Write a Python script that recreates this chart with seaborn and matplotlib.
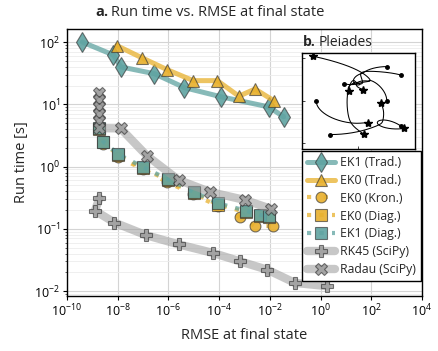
import numpy as np
import pandas as pd
import matplotlib
matplotlib.use("Agg")
import matplotlib.pyplot as plt
import seaborn as sns
from matplotlib.ticker import FixedLocator, NullLocator, NullFormatter, LogLocator
from matplotlib.colors import to_rgba

# ---------------- data ----------------
ek1_trad_err = [4.0e-10, 6.8e-9, 1.3e-8, 2.8e-7, 4.3e-6, 1.2e-4, 8.9e-3, 3.5e-2]
ek1_trad_time = [100, 62, 40, 31, 18.5, 13.2, 9.1, 6.3]

ek0_trad_err = [9.1e-9, 8.9e-8, 8.9e-7, 9.5e-6, 8.5e-5, 6.0e-4, 2.6e-3, 1.45e-2]
ek0_trad_time = [88, 56, 36, 24, 24, 13.5, 17.6, 11.4]

ek0_kron_err = [1.8e-9, 2.7e-9, 1.0e-8, 9.5e-8, 8.5e-7, 9.5e-6, 9.3e-5, 6.6e-4, 2.6e-3, 1.35e-2]
ek0_kron_time = [4.0, 2.3, 1.44, 0.91, 0.57, 0.357, 0.232, 0.153, 0.111, 0.111]

ek0_diag_err = [1.8e-9, 2.7e-9, 1.05e-8, 9.5e-8, 9.5e-7, 1.0e-5, 9.3e-5, 1.1e-3, 4.0e-3, 9.3e-3]
ek0_diag_time = [4.0, 2.45, 1.52, 0.95, 0.60, 0.375, 0.245, 0.185, 0.160, 0.155]

ek1_diag_err = [1.8e-9, 2.7e-9, 1.07e-8, 9.5e-8, 9.8e-7, 1.05e-5, 9.3e-5, 1.15e-3, 4.1e-3, 9.5e-3]
ek1_diag_time = [4.1, 2.5, 1.57, 0.99, 0.62, 0.39, 0.256, 0.195, 0.166, 0.16]

rk45_err = [1.9e-9, 1.26e-9, 7.4e-9, 1.3e-7, 2.6e-6, 5.6e-5, 6.6e-4, 7.9e-3, 9.8e-2, 1.74]
rk45_time = [0.31, 0.195, 0.126, 0.079, 0.056, 0.041, 0.030, 0.022, 0.0135, 0.012]

radau_err = [1.85e-9, 1.85e-9, 1.85e-9, 1.85e-9, 1.85e-9, 1.85e-9, 1.3e-8, 1.4e-7, 2.5e-6, 4.4e-5, 1.05e-3, 1.07e-2]
radau_time = [15.4, 11.9, 9.0, 7.0, 5.4, 4.15, 4.1, 1.5, 0.61, 0.39, 0.29, 0.21]

x_ticks = [1e-10, 1e-8, 1e-6, 1e-4, 1e-2, 1e0, 1e2, 1e4]

# Pleiades problem (inset b.): initial conditions and masses
pl_x0 = [3.0, 3.0, -1.0, -3.0, 2.0, -2.0, 2.0]
pl_y0 = [3.0, -3.0, 2.0, 0.0, 0.0, -4.0, 4.0]
pl_vx0 = [0.0, 0.0, 0.0, 0.0, 0.0, 1.75, -1.5]
pl_vy0 = [0.0, 0.0, 0.0, -1.25, 1.0, 0.0, 0.0]
pl_mass = [1, 2, 3, 4, 5, 6, 7]
pl_tend = 3.0

# ---------------- style ----------------
sns.set_theme(style="ticks")
plt.rcParams["font.family"] = ["Open Sans", "DejaVu Sans"]
plt.rcParams["mathtext.fontset"] = "dejavusans"

TEAL = "#5fa3a1"
GOLD = "#e8b02c"
GRAY = "#9a9a9a"
EDGE = (0.2, 0.2, 0.2, 0.65)

fig = plt.figure(figsize=(4.39, 3.51), dpi=100)
W, H = 439, 351
ax = fig.add_axes([67 / W, 1 - 296 / H, (422 - 67) / W, (296 - 29) / H])

def series(err, time, label, color, marker, ms, ls="-", lw=3.6, lalpha=0.75, falpha=0.9):
    df = pd.DataFrame({"err": err, "time": time})
    sns.lineplot(data=df, x="err", y="time", ax=ax, estimator=None, sort=False,
                 errorbar=None, label=label, color=to_rgba(color, lalpha),
                 linestyle=ls, linewidth=lw, marker=marker, markersize=ms,
                 markerfacecolor=to_rgba(color, falpha), markeredgecolor=EDGE,
                 markeredgewidth=0.8)

series(ek1_trad_err, ek1_trad_time, "EK1 (Trad.)", TEAL, "d", 10)
series(ek0_trad_err, ek0_trad_time, "EK0 (Trad.)", GOLD, "^", 9)
series(ek0_kron_err, ek0_kron_time, "EK0 (Kron.)", GOLD, "o", 7.8, ls=(0, (1, 3)), lw=3)
series(ek0_diag_err, ek0_diag_time, "EK0 (Diag.)", GOLD, "s", 8, ls=(0, (1, 2)), lw=3)
series(ek1_diag_err, ek1_diag_time, "EK1 (Diag.)", TEAL, "s", 8, ls=(0, (1, 2)), lw=3)
series(rk45_err, rk45_time, "RK45 (SciPy)", GRAY, "P", 8.5, lw=6, lalpha=0.55, falpha=0.8)
series(radau_err, radau_time, "Radau (SciPy)", GRAY, "X", 8.5, lw=6, lalpha=0.55, falpha=0.8)

ax.set_xscale("log")
ax.set_yscale("log")
ax.set_xlim(1e-10, 1e4)
ax.set_ylim(10 ** -2.08, 10 ** 2.21)
ax.xaxis.set_major_locator(FixedLocator(x_ticks))
ax.xaxis.set_minor_locator(NullLocator())
ax.yaxis.set_major_locator(LogLocator(base=10, numticks=10))
ax.yaxis.set_minor_locator(LogLocator(base=10, subs=np.arange(2, 10), numticks=20))
ax.yaxis.set_minor_formatter(NullFormatter())
ax.grid(True, which="major", color="#d4d4d4", linewidth=0.8)
ax.grid(True, which="minor", axis="y", color="#ececec", linewidth=0.6)
ax.set_axisbelow(True)
for s in ax.spines.values():
    s.set_color("black")
    s.set_linewidth(1.0)
ax.tick_params(axis="both", which="major", labelsize=9, length=3, width=0.8, pad=2, colors="black")
ax.tick_params(axis="y", which="minor", length=1.5, width=0.5)
ax.set_xlabel("RMSE at final state", fontsize=10.5, labelpad=6)
ax.set_ylabel("Run time [s]", fontsize=10.5, labelpad=4)

leg = ax.legend(loc="upper left", bbox_to_anchor=(302 / W, 1 - 151 / H),
                bbox_transform=fig.transFigure, fontsize=8.8, frameon=True,
                fancybox=False, edgecolor="black", framealpha=1.0,
                handlelength=2.3, handletextpad=0.45, borderpad=0.4,
                labelspacing=0.4, borderaxespad=0.0)
leg.get_frame().set_linewidth(1.0)

# title a.
t1 = fig.text(95 / W, 1 - 12 / H, "a.", fontsize=10.5, fontweight="bold", va="center", ha="left")
fig.canvas.draw()
bb = t1.get_window_extent()
fig.text(bb.x1 / fig.bbox.width + 3 / W, 1 - 12 / H, "Run time vs. RMSE at final state",
         fontsize=10.5, va="center", ha="left")

# ---------------- inset: Pleiades ----------------
m = np.array(pl_mass, float)
pos = np.stack([pl_x0, pl_y0], axis=1).astype(float)
vel = np.stack([pl_vx0, pl_vy0], axis=1).astype(float)

def acc(p):
    d = p[None, :, :] - p[:, None, :]
    r2 = (d ** 2).sum(-1)
    np.fill_diagonal(r2, 1.0)
    inv = r2 ** -1.5
    np.fill_diagonal(inv, 0.0)
    return (d * (m[None, :, None] * inv[:, :, None])).sum(1)

dt = 1e-4
nsteps = int(round(pl_tend / dt))
traj = [pos.copy()]
p, v = pos.copy(), vel.copy()
for k in range(nsteps):
    k1p, k1v = v, acc(p)
    k2p, k2v = v + 0.5 * dt * k1v, acc(p + 0.5 * dt * k1p)
    k3p, k3v = v + 0.5 * dt * k2v, acc(p + 0.5 * dt * k2p)
    k4p, k4v = v + dt * k3v, acc(p + dt * k3p)
    p = p + dt / 6 * (k1p + 2 * k2p + 2 * k3p + k4p)
    v = v + dt / 6 * (k1v + 2 * k2v + 2 * k3v + k4v)
    if k % 10 == 9:
        traj.append(p.copy())
traj = np.array(traj)

iax = fig.add_axes([302 / W, 1 - 149 / H, 113 / W, 96 / H])
iax.set_facecolor("white")
for b in range(7):
    dfb = pd.DataFrame({"x": traj[:, b, 0], "y": traj[:, b, 1]})
    sns.lineplot(data=dfb, x="x", y="y", ax=iax, estimator=None, sort=False,
                 errorbar=None, color="black", linewidth=0.75)
    iax.plot(traj[0, b, 0], traj[0, b, 1], "o", color="black", markersize=2.5)
    iax.plot(traj[-1, b, 0], traj[-1, b, 1], "*", color="black", markersize=6)
iax.set_xlim(-4.0, 4.0)
iax.set_ylim(-5.7, 5.6)
iax.set_xticks([-4, 0, 4])
iax.set_yticks([-5, 0, 5])
iax.set_xticklabels([])
iax.set_yticklabels([])
iax.set_xlabel("")
iax.set_ylabel("")
iax.tick_params(length=2, width=0.6, direction="in")
for s in iax.spines.values():
    s.set_color("black")
    s.set_linewidth(1.0)

t2 = fig.text(303 / W, 1 - 42 / H, "b.", fontsize=10, fontweight="bold", va="center", ha="left")
fig.canvas.draw()
bb2 = t2.get_window_extent()
fig.text(bb2.x1 / fig.bbox.width + 3 / W, 1 - 42 / H, "Pleiades", fontsize=10, va="center", ha="left")

fig.savefig("out.png", dpi=100)
